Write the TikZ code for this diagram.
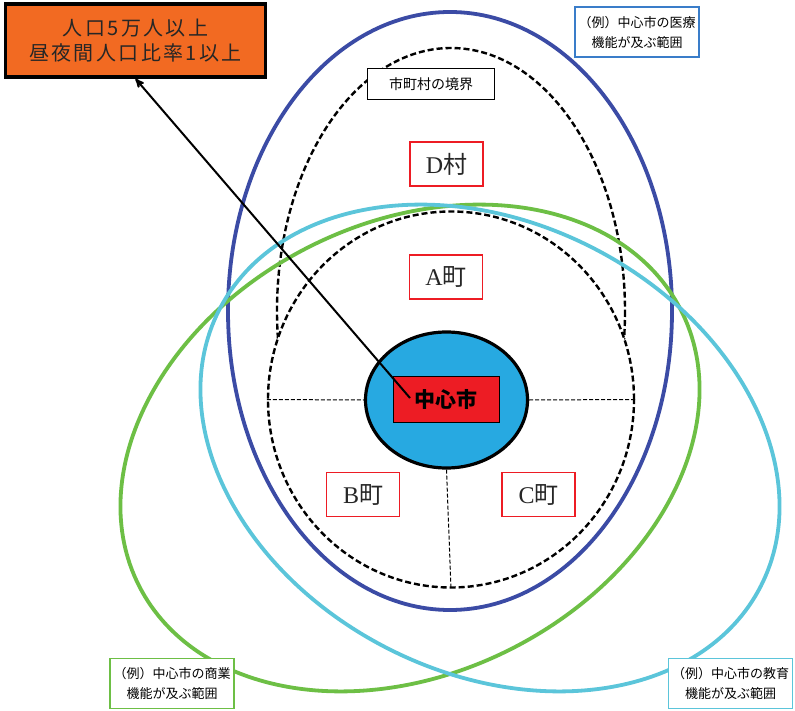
\documentclass[tikz,border=0pt]{standalone}
\usepackage{fontspec}
\setmainfont{Liberation Serif}
\newfontfamily\jp{Noto Sans CJK JP}
\newfontfamily\jpwide[LetterSpace=12]{Noto Sans CJK JP}
\usepackage{xcolor}
\usetikzlibrary{arrows,shapes.geometric}

\definecolor{medblue}{RGB}{59,75,165}
\definecolor{comgreen}{RGB}{109,191,69}
\definecolor{educyan}{RGB}{91,197,218}
\definecolor{corecyan}{RGB}{39,169,225}
\definecolor{cityred}{RGB}{237,28,36}
\definecolor{poporange}{RGB}{242,106,34}
\definecolor{noteblue}{RGB}{58,125,201}

\begin{document}
\begin{tikzpicture}[x=1pt,y=-1pt,>=stealth',
        zone/.style={line width=3.8pt},
        border/.style={dash pattern=on 6pt off 3pt,line width=2.4pt},
        split/.style={dash pattern=on 4pt off 2pt,line width=1pt},
        townbox/.style={draw=cityred,line width=1.2pt,fill=white,text=black!85,
            minimum width=73pt,minimum height=44pt,inner sep=0pt},
        notebox/.style={draw,line width=1.5pt,fill=white,align=center,inner sep=0pt,
            minimum width=124pt,minimum height=50pt,
            font=\jp\fontsize{13}{20}\selectfont}]

    \fill[white] (0,0) rectangle (795,711);
    \useasboundingbox (0,0) rectangle (795,711);

    \draw[border] (451,311) ellipse [x radius=174, y radius=263];
    \node[ellipse,draw,border,fill=white,inner sep=0pt,
        minimum width=366pt,minimum height=376pt] (town) at (451,399.5) {};

    \draw[zone,medblue] (450,311) ellipse [x radius=222, y radius=299];
    \draw[zone,comgreen,rotate around={27:(410,448)}] (410,448) ellipse [x radius=304, y radius=225];
    \draw[zone,educyan,rotate around={-27:(490,448)}] (490,448) ellipse [x radius=304, y radius=225];

    \node[ellipse,draw,line width=3.2pt,fill=corecyan,inner sep=0pt,
        minimum width=162pt,minimum height=136pt] (core) at (446.5,400) {};
    \node[draw,line width=0.8pt,fill=cityred,inner sep=0pt,
        minimum width=106pt,minimum height=46pt,
        font=\jp\bfseries\fontsize{21}{21}\selectfont] (city) at (446,399) {中心市};

    \path (town.west) edge[split] (core.west);
    \path (core.east) edge[split] (town.east);
    \path (core.south) edge[split] (town.south);

    \node[draw,line width=3.5pt,fill=poporange,inner sep=0pt,align=center,
        minimum width=260pt,minimum height=73pt,text=black!85,
        font=\jpwide\fontsize{20}{25}\selectfont] (pop) at (135.5,40.5)
        {\raisebox{-2pt}{人口5万人以上}\\\raisebox{-2pt}{昼夜間人口比率1以上}};

    \coordinate (tail) at (410,398);
    \path (tail) edge[->,line width=2pt] (pop.south);

    \node[townbox] (dvil) at (446.5,164) {\fontsize{24}{24}\selectfont D{\jp 村}};
    \node[townbox] (atown) at (446,277) {\fontsize{24}{24}\selectfont A{\jp 町}};
    \node[townbox] (btown) at (363,494.5) {\fontsize{24}{24}\selectfont B{\jp 町}};
    \node[townbox] (ctown) at (538.5,494.5) {\fontsize{24}{24}\selectfont C{\jp 町}};

    \node[draw,line width=1.5pt,fill=white,inner sep=0pt,minimum width=127pt,
        minimum height=31pt,font=\jp\fontsize{14}{14}\selectfont] (bound) at (431,84) {市町村の境界};

    \node[notebox,draw=noteblue] (med) at (637,32) {（例）中心市の医療\\機能が及ぶ範囲};
    \node[notebox,draw=comgreen] (com) at (172,683.5) {（例）中心市の商業\\機能が及ぶ範囲};
    \node[notebox,draw=educyan] (edu) at (730.5,683.5) {（例）中心市の教育\\機能が及ぶ範囲};

\end{tikzpicture}
\end{document}
